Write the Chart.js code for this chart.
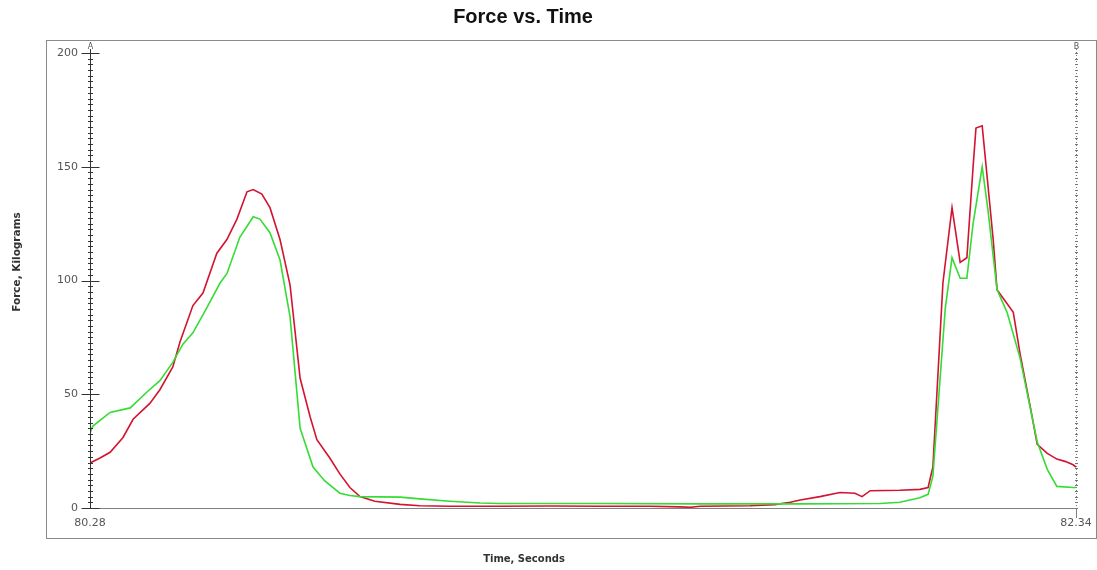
<!DOCTYPE html>
<html>
<head>
<meta charset="utf-8">
<script src="https://cdn.jsdelivr.net/npm/chart.js@4"></script>
<style>
  body { margin: 0; background: #fff; }
  canvas { display: block; }
</style>
</head>
<body>
<canvas id="force-chart" width="1097" height="570"></canvas>
<script>
// time axis, seconds
let timeMin = 80.28
let timeMax = 82.34
let timeTicks = [80.28, 82.34]
let forceTicks = [0, 50, 100, 150, 200]

// red trace
let redTime = [80.280, 80.301, 80.322, 80.349, 80.370, 80.405, 80.426, 80.453, 80.468, 80.495,
  80.516, 80.545, 80.566, 80.587, 80.608, 80.621, 80.639, 80.656, 80.677, 80.698,
  80.719, 80.740, 80.754, 80.781, 80.802, 80.823, 80.844, 80.875, 80.928, 80.969,
  81.032, 81.137, 81.241, 81.346, 81.450, 81.513, 81.534, 81.555, 81.659, 81.711,
  81.743, 81.764, 81.805, 81.847, 81.878, 81.893, 81.910, 81.972, 82.014, 82.031,
  82.041, 82.062, 82.081, 82.098, 82.112, 82.125, 82.131, 82.144, 82.150, 82.167,
  82.175, 82.192, 82.209, 82.223, 82.244, 82.259, 82.280, 82.300, 82.317, 82.334, 82.340]
let redForce = [19.8, 22, 24.5, 31, 39, 46, 52, 62, 73, 89,
  94.5, 112, 118, 127, 139, 140, 138, 132, 118, 98,
  57, 40, 30, 22, 15, 9, 5, 3, 1.6, 1,
  0.8, 0.8, 0.9, 0.8, 0.8, 0.5, 0.3, 0.8, 1, 1.5,
  2.5, 3.5, 5, 6.8, 6.5, 5, 7.6, 7.8, 8.2, 9,
  18, 99, 132, 108, 110, 150, 167, 168, 155, 118,
  96, 91, 86, 68, 45, 28, 24, 21.5, 20.5, 19, 18]

// green trace
let greenTime = [80.280, 80.286, 80.322, 80.364, 80.399, 80.426, 80.453, 80.474, 80.495, 80.524,
  80.552, 80.566, 80.593, 80.621, 80.635, 80.656, 80.677, 80.698, 80.719, 80.746,
  80.770, 80.802, 80.823, 80.844, 80.928, 80.969, 81.032, 81.095, 81.137, 81.346,
  81.555, 81.764, 81.931, 81.972, 81.993, 82.014, 82.031, 82.041, 82.067, 82.081,
  82.098, 82.112, 82.125, 82.144, 82.156, 82.175, 82.196, 82.223, 82.259, 82.280,
  82.300, 82.334, 82.340]
let greenForce = [33, 36, 42, 44, 51, 56, 64, 72, 77, 88,
  99, 103, 119, 128, 127, 121, 109, 84, 35, 18,
  12, 6.5, 5.5, 5, 4.8, 4, 3, 2.2, 2, 2,
  1.8, 1.8, 2, 2.5, 3.5, 4.5, 6, 14, 88, 110,
  101, 101, 125, 150, 131, 96, 86, 66, 29, 17,
  9.5, 9, 9]

function toPoints(xs, ys) {
  let pts = []
  xs.forEach(function (x, i) {
    pts.push({ x: x, y: ys[i] })
  })
  return pts
}

// box, titles and the axis decorations of the original
let decorPlugin = {
  id: 'decor',
  afterDraw: function (chart) {
    let ctx = chart.ctx
    let area = chart.chartArea
    let yScale = chart.scales.y
    ctx.save()

    // outer frame
    ctx.strokeStyle = '#8a8a8a'
    ctx.lineWidth = 1
    ctx.strokeRect(46.5, 40.5, 1050, 498)

    // x axis line
    ctx.strokeStyle = '#808080'
    ctx.beginPath()
    ctx.moveTo(area.left, Math.round(area.bottom) + 0.5)
    ctx.lineTo(area.right, Math.round(area.bottom) + 0.5)
    ctx.moveTo(Math.round(area.right) + 0.5, area.bottom)
    ctx.lineTo(Math.round(area.right) + 0.5, area.bottom + 10)
    ctx.stroke()

    // left axis A : solid with minor and major ticks
    let lx = Math.round(area.left) + 0.5
    ctx.strokeStyle = '#333'
    ctx.beginPath()
    ctx.moveTo(lx, area.top - 4)
    ctx.lineTo(lx, area.bottom)
    for (let v = 0; v <= 200; v += 2.5) {
      let y = Math.round(yScale.getPixelForValue(v)) + 0.5
      let w = (v % 50 === 0) ? 9 : 2.5
      ctx.moveTo(lx - w, y)
      ctx.lineTo(lx + w, y)
    }
    ctx.stroke()

    // right axis B : dotted
    let rx = Math.round(area.right) + 0.5
    ctx.strokeStyle = '#777'
    ctx.setLineDash([1, 2])
    ctx.beginPath()
    ctx.moveTo(rx, area.top - 4)
    ctx.lineTo(rx, area.bottom)
    ctx.stroke()
    ctx.setLineDash([])
    ctx.beginPath()
    for (let v = 0; v <= 200; v += 2.5) {
      let y = Math.round(yScale.getPixelForValue(v)) + 0.5
      ctx.moveTo(rx - 1.5, y)
      ctx.lineTo(rx + 1.5, y)
    }
    ctx.stroke()

    ctx.fillStyle = '#555'
    ctx.font = '8px "DejaVu Sans", sans-serif'
    ctx.textAlign = 'center'
    ctx.textBaseline = 'bottom'
    ctx.fillText('A', lx, area.top - 2)
    ctx.fillText('B', rx, area.top - 2)

    // titles
    ctx.fillStyle = '#111'
    ctx.textBaseline = 'middle'
    ctx.font = 'bold 20px "Liberation Sans", Arial, sans-serif'
    ctx.fillText('Force vs. Time', 523, 17)

    ctx.fillStyle = '#333'
    ctx.font = 'bold 10px "DejaVu Sans", sans-serif'
    ctx.fillText('Time, Seconds', 524, 559)

    ctx.translate(17, 262)
    ctx.rotate(-Math.PI / 2)
    ctx.font = 'bold 10.5px "DejaVu Sans", sans-serif'
    ctx.fillText('Force, Kilograms', 0, 0)
    ctx.restore()
  }
}

new Chart(document.getElementById('force-chart'), {
  type: 'line',
  data: {
    datasets: [
      {
        label: 'green',
        data: toPoints(greenTime, greenForce),
        borderColor: '#35dc35',
        borderWidth: 1.6,
        pointRadius: 0,
        tension: 0,
        fill: false
      },
      {
        label: 'red',
        data: toPoints(redTime, redForce),
        borderColor: '#d3132f',
        borderWidth: 1.6,
        pointRadius: 0,
        tension: 0,
        fill: false
      }
    ]
  },
  options: {
    responsive: false,
    animation: false,
    layout: { padding: { left: 46, top: 53, right: 21, bottom: 32 } },
    plugins: {
      legend: { display: false },
      title: { display: false },
      tooltip: { enabled: false }
    },
    scales: {
      x: {
        type: 'linear',
        min: timeMin,
        max: timeMax,
        grid: { display: false, drawTicks: false },
        border: { display: false },
        afterBuildTicks: function (scale) {
          scale.ticks = timeTicks.map(function (v) { return { value: v } })
        },
        afterFit: function (scale) {
          scale.height = 30
          // the edge labels may hang over, like in the original
          scale.paddingLeft = 0
          scale.paddingRight = 0
        },
        ticks: {
          autoSkip: false,
          maxRotation: 0,
          padding: 9,
          color: '#555',
          font: { size: 11, family: '"DejaVu Sans", sans-serif' },
          callback: function (v) { return Number(v).toFixed(2) }
        }
      },
      y: {
        min: 0,
        max: 200,
        grid: { display: false, drawTicks: false },
        border: { display: false },
        afterBuildTicks: function (scale) {
          scale.ticks = forceTicks.map(function (v) { return { value: v } })
        },
        afterFit: function (scale) { scale.width = 44 },
        ticks: {
          padding: 12,
          color: '#555',
          font: { size: 11, family: '"DejaVu Sans", sans-serif' }
        }
      }
    }
  },
  plugins: [decorPlugin]
});
</script>
</body>
</html>
